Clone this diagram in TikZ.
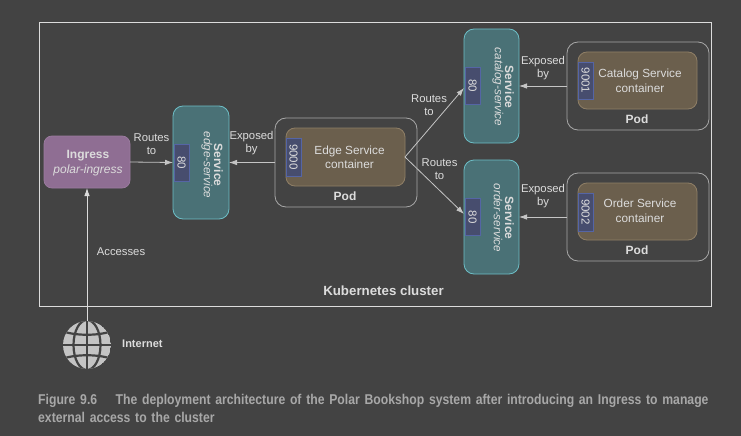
\documentclass[tikz,border=0pt]{standalone}
\usepackage{fontspec}
\setmainfont{Liberation Sans}
\newfontfamily\capfont[FakeStretch=0.86]{Liberation Sans}
\usetikzlibrary{arrows.meta}
\definecolor{bg}{HTML}{434343}
\definecolor{ingfill}{HTML}{8F6E93}
\definecolor{ingline}{HTML}{9C7CA0}
\definecolor{svcfill}{HTML}{4A7176}
\definecolor{svcline}{HTML}{6DBEC6}
\definecolor{portfill}{HTML}{474D6E}
\definecolor{portline}{HTML}{5565A5}
\definecolor{ctrfill}{HTML}{6B5F4D}
\definecolor{ctrline}{HTML}{8F7F66}
\definecolor{podline}{HTML}{A8A8A8}
\definecolor{txt}{HTML}{DCDCDC}
\definecolor{glb}{HTML}{C4C4C4}
\tikzset{
 x=1pt,y=-1pt,
 box/.style 2 args={minimum width=#1 pt,minimum height=#2 pt,inner sep=0pt,outer sep=0pt,anchor=center},
 frame/.style={draw=txt,line width=1pt,fill=none},
 ingress/.style={draw=ingline,fill=ingfill,rounded corners=8pt,line width=.7pt},
 service/.style={draw=svcline,fill=svcfill,rounded corners=10pt,line width=.8pt},
 portbox/.style={draw=portline,fill=portfill,line width=.8pt},
 ctr/.style={draw=ctrline,fill=ctrfill,rounded corners=9pt,line width=.8pt},
 pod/.style={draw=podline,rounded corners=11pt,line width=.8pt},
 lbl/.style={text=txt,font=\fontsize{11.8}{14.5}\selectfont,align=center,inner sep=0pt},
 edgelbl/.style={text=txt,font=\fontsize{11.3}{13}\selectfont,align=center,inner sep=0pt},
 boldlbl/.style={text=txt,font=\fontsize{12}{14}\selectfont\bfseries,inner sep=0pt},
 rotlbl/.style={text=txt,rotate=-90,font=\fontsize{11.5}{13}\selectfont,inner sep=0pt},
 conn/.style={draw=txt!85!bg,line width=.8pt,-{Latex[length=8pt,width=5.5pt]}},
}
\begin{document}
\begin{tikzpicture}
\fill[bg] (0,0) rectangle (741,436);
\useasboundingbox (0,0) rectangle (741,436);
% frame
\node[frame,box={672}{283}] (cluster) at (375,164.5) {};
\node[boldlbl,font=\fontsize{13.3}{15}\selectfont\bfseries] (clusterlbl) at (383.5,291) {Kubernetes cluster};
% ingress
\node[ingress,box={86}{52}] (ingress) at (87,162) {};
\node[text=txt,inner sep=0pt,font=\fontsize{12}{14}\selectfont\bfseries] (ingA) at (88,156) {Ingress};
\node[text=txt,inner sep=0pt,font=\fontsize{12}{14}\selectfont\itshape] (ingB) at (88,170) {polar-ingress};
% services
\node[service,box={56}{113}] (edgesvc) at (201,162.5) {};
\node[portbox,box={15}{37},text=txt] (edgeport) at (181.5,162.5) {\rotatebox{-90}{\fontsize{11.5}{13}\selectfont 80}};
\node[rotlbl,font=\fontsize{12}{14}\selectfont\bfseries] (edgesvcA) at (218.5,165) {Service};
\node[rotlbl,font=\fontsize{11.7}{13}\selectfont\itshape] (edgesvcB) at (207,165) {edge-service};
\node[service,box={55}{114}] (catsvc) at (491.5,86) {};
\node[portbox,box={15}{37},text=txt] (catport) at (472.5,86) {\rotatebox{-90}{\fontsize{11.5}{13}\selectfont 80}};
\node[rotlbl,font=\fontsize{12}{14}\selectfont\bfseries] (catsvcA) at (509.5,87) {Service};
\node[rotlbl,font=\fontsize{11.7}{13}\selectfont\itshape] (catsvcB) at (498,87) {catalog-service};
\node[service,box={55}{114}] (ordsvc) at (491.5,217) {};
\node[portbox,box={15}{37},text=txt] (ordport) at (472.5,217) {\rotatebox{-90}{\fontsize{11.5}{13}\selectfont 80}};
\node[rotlbl,font=\fontsize{12}{14}\selectfont\bfseries] (ordsvcA) at (509.5,218) {Service};
\node[rotlbl,font=\fontsize{11.7}{13}\selectfont\itshape] (ordsvcB) at (498,218) {order-service};
% pods
\node[pod,box={142}{89}] (edgepod) at (346,162.5) {};
\node[ctr,box={119}{58}] (edgectr) at (345.5,157) {};
\node[lbl] (edgetxt) at (349.5,157.5) {Edge Service\\container};
\node[portbox,box={15}{38},text=txt] (edgepp) at (293.5,157) {\rotatebox{-90}{\fontsize{11.5}{13}\selectfont 9000}};
\node[boldlbl] (edgepodlbl) at (345,196) {Pod};
\node[pod,box={142}{88}] (catpod) at (638,86) {};
\node[ctr,box={119}{57}] (catctr) at (637.5,80.5) {};
\node[lbl] (cattxt) at (640,81) {Catalog Service\\container};
\node[portbox,box={15}{37},text=txt] (catpp) at (585.5,80.5) {\rotatebox{-90}{\fontsize{11.5}{13}\selectfont 9001}};
\node[boldlbl] (catpodlbl) at (637,119) {Pod};
\node[pod,box={142}{88}] (ordpod) at (638,217) {};
\node[ctr,box={119}{57}] (ordctr) at (637.5,211.5) {};
\node[lbl] (ordtxt) at (640,211) {Order Service\\container};
\node[portbox,box={15}{38},text=txt] (ordpp) at (585.5,212) {\rotatebox{-90}{\fontsize{11.5}{13}\selectfont 9002}};
\node[boldlbl] (ordpodlbl) at (637,250) {Pod};
% globe
\begin{scope}
\clip (87,345) circle (24);
\fill[glb] (87,345) circle (24);
\draw[bg,line width=2.2pt] (87,321) -- (87,369);
\draw[bg,line width=2.2pt] (87,345) ellipse (13.5 and 25);
\draw[bg,line width=2.2pt] (60,345) -- (114,345);
\draw[bg,line width=2.2pt] (62,331) .. controls (75,336) and (99,336) .. (112,331);
\draw[bg,line width=2.2pt] (62,359) .. controls (75,354) and (99,354) .. (112,359);
\end{scope}
\node[inner sep=0pt,minimum size=48pt,circle] (globe) at (87,345) {};
\node[boldlbl,font=\fontsize{11}{13}\selectfont\bfseries,anchor=west] (internet) at (122,344) {Internet};
% connectors
\draw[conn,draw=txt] (globe.north) -- (ingress.south);
\draw[conn] (ingress.east) -- (edgesvc.west);
\draw[conn] (edgepod.west) -- (edgesvc.east);
\draw[conn] (edgectr.east) -- ([yshift=-2pt]catsvc.west);
\draw[conn] (edgectr.east) -- ([yshift=3pt]ordsvc.west);
\draw[conn] (catpod.west) -- (catsvc.east);
\draw[conn] (ordpod.west) -- (ordsvc.east);
% edge labels
\node[edgelbl] (r1) at (151.5,144) {Routes\\to};
\node[edgelbl] (e1) at (251.5,143) {Exposed\\by};
\node[edgelbl] (r2) at (429,105) {Routes\\to};
\node[edgelbl] (r3) at (439.5,169) {Routes\\to};
\node[edgelbl] (e2) at (543,68) {Exposed\\by};
\node[edgelbl] (e3) at (543,196) {Exposed\\by};
\node[edgelbl] (acc) at (121,252) {Accesses};
% caption
\node[anchor=north west,inner sep=0pt,text=podline,align=left,text width=695pt,
 font=\capfont\fontsize{14.2}{17.5}\selectfont\bfseries] (caption) at (38,394.5)
 {Figure 9.6\hspace{1.3em}The deployment architecture of the Polar Bookshop system after introducing an Ingress to manage\\external access to the cluster};
\end{tikzpicture}
\end{document}
